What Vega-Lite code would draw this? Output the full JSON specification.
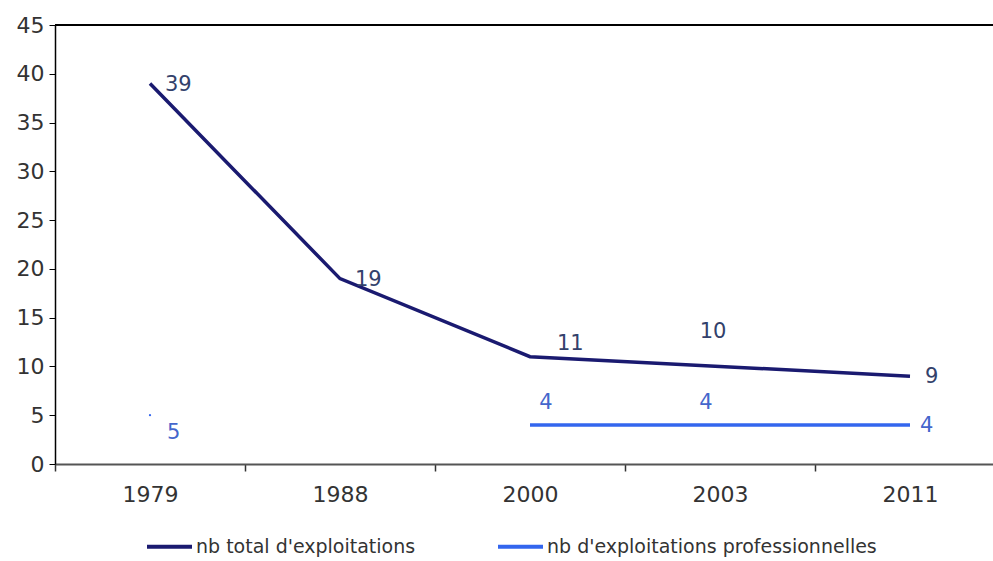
{
  "$schema": "https://vega.github.io/schema/vega-lite/v6.json",
  "autosize": {"type": "none"},
  "width": 938,
  "height": 439,
  "padding": {"left": 55, "top": 25, "right": 0, "bottom": 97},
  "background": "white",
  "config": {
    "view": {"stroke": null},
    "font": "DejaVu Sans",
    "text": {"font": "DejaVu Sans", "fontSize": 21}
  },
  "data": {
    "values": [
      {"year": "1979", "serie": "nb total d'exploitations", "value": 39},
      {"year": "1988", "serie": "nb total d'exploitations", "value": 19},
      {"year": "2000", "serie": "nb total d'exploitations", "value": 11},
      {"year": "2003", "serie": "nb total d'exploitations", "value": 10},
      {"year": "2011", "serie": "nb total d'exploitations", "value": 9},
      {"year": "1979", "serie": "nb d'exploitations professionnelles", "value": 5},
      {"year": "1988", "serie": "nb d'exploitations professionnelles", "value": null},
      {"year": "2000", "serie": "nb d'exploitations professionnelles", "value": 4},
      {"year": "2003", "serie": "nb d'exploitations professionnelles", "value": 4},
      {"year": "2011", "serie": "nb d'exploitations professionnelles", "value": 4}
    ]
  },
  "encoding": {
    "x": {
      "field": "year", "type": "ordinal",
      "scale": {"range": [0, 950], "paddingInner": 0, "paddingOuter": 0},
      "axis": {
        "title": null, "labelAngle": 0, "tickBand": "extent",
        "domainColor": "#555555", "domainWidth": 2, "tickColor": "#333333", "tickWidth": 1.5, "tickSize": 7,
        "labelFont": "DejaVu Sans", "labelFontSize": 22, "labelColor": "#333333", "labelPadding": 13
      }
    },
    "y": {
      "field": "value", "type": "quantitative",
      "scale": {"domain": [0, 45], "nice": false},
      "axis": {
        "title": null, "values": [0, 5, 10, 15, 20, 25, 30, 35, 40, 45], "grid": false,
        "domainColor": "#000000", "domainWidth": 1.5, "tickColor": "#000000", "tickSize": 6,
        "labelFont": "DejaVu Sans", "labelFontSize": 22, "labelColor": "#333333", "labelPadding": 5
      }
    }
  },
  "layer": [
    {
      "mark": {"type": "line", "strokeWidth": 3.5},
      "encoding": {
        "color": {
          "field": "serie", "type": "nominal",
          "scale": {"domain": ["nb total d'exploitations", "nb d'exploitations professionnelles"], "range": ["#1a1a70", "#3366ee"]},
          "legend": {
            "title": null, "orient": "none", "legendX": 90, "legendY": 497, "direction": "horizontal",
            "symbolType": "stroke", "symbolSize": 2025, "symbolStrokeWidth": 4,
            "labelFont": "DejaVu Sans", "labelFontSize": 19, "labelColor": "#333333", "labelOffset": 2,
            "labelLimit": 500, "columnPadding": 74
          }
        }
      }
    },
    {
      "transform": [{"filter": "datum.year == '1979' && datum.serie == \"nb d'exploitations professionnelles\""}],
      "mark": {"type": "point", "filled": true, "size": 5, "color": "#3366ee", "opacity": 1}
    },
    {
      "transform": [{"filter": "datum.serie == \"nb total d'exploitations\" && (datum.year == '1979' || datum.year == '1988' || datum.year == '2011')"}],
      "mark": {"type": "text", "align": "left", "baseline": "middle", "dx": 15, "dy": 1, "color": "#33416b"},
      "encoding": {"text": {"field": "value", "type": "quantitative"}}
    },
    {
      "transform": [{"filter": "datum.serie == \"nb total d'exploitations\" && datum.year == '2000'"}],
      "mark": {"type": "text", "align": "left", "baseline": "middle", "dx": 27, "dy": -13, "color": "#33416b"},
      "encoding": {"text": {"field": "value", "type": "quantitative"}}
    },
    {
      "transform": [{"filter": "datum.serie == \"nb total d'exploitations\" && datum.year == '2003'"}],
      "mark": {"type": "text", "align": "center", "baseline": "middle", "dx": -7, "dy": -34, "color": "#33416b"},
      "encoding": {"text": {"field": "value", "type": "quantitative"}}
    },
    {
      "transform": [{"filter": "datum.serie == \"nb d'exploitations professionnelles\" && datum.year == '1979'"}],
      "mark": {"type": "text", "align": "left", "baseline": "middle", "dx": 17, "dy": 18, "color": "#4466cc"},
      "encoding": {"text": {"field": "value", "type": "quantitative"}}
    },
    {
      "transform": [{"filter": "datum.serie == \"nb d'exploitations professionnelles\" && datum.year == '2000'"}],
      "mark": {"type": "text", "align": "center", "baseline": "middle", "dx": 16, "dy": -22, "color": "#4466cc"},
      "encoding": {"text": {"field": "value", "type": "quantitative"}}
    },
    {
      "transform": [{"filter": "datum.serie == \"nb d'exploitations professionnelles\" && datum.year == '2003'"}],
      "mark": {"type": "text", "align": "center", "baseline": "middle", "dx": -14, "dy": -22, "color": "#4466cc"},
      "encoding": {"text": {"field": "value", "type": "quantitative"}}
    },
    {
      "transform": [{"filter": "datum.serie == \"nb d'exploitations professionnelles\" && datum.year == '2011'"}],
      "mark": {"type": "text", "align": "left", "baseline": "middle", "dx": 10, "dy": 1, "color": "#4466cc"},
      "encoding": {"text": {"field": "value", "type": "quantitative"}}
    },
    {
      "mark": {"type": "rule", "color": "#000000", "strokeWidth": 1.5},
      "encoding": {
        "x": {"value": 0},
        "x2": {"value": 950},
        "y": {"datum": 45}
      }
    }
  ]
}
